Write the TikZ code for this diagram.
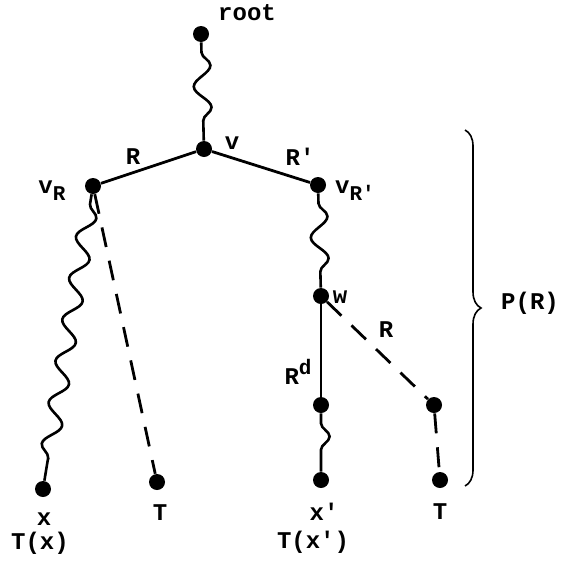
\documentclass[tikz,border=0pt]{standalone}
\usepackage{fontspec}
\setmonofont{Liberation Mono}
\usetikzlibrary{positioning,decorations.pathmorphing,decorations.pathreplacing}
\newcommand{\lsub}[1]{\raisebox{-3.5pt}{\fontsize{10.5}{11}\selectfont #1}}
\newcommand{\lsup}[1]{\raisebox{5pt}{\fontsize{10.5}{11}\selectfont #1}}
\tikzset{
dot/.style={circle,fill=black,inner sep=0pt,minimum size=8pt},
lbl/.style={font=\ttfamily\bfseries\fontsize{12}{13}\selectfont,inner sep=1pt},
solidedge/.style={line width=1.4pt},
wavyedge/.style={line width=1.3pt,decorate,decoration={snake,segment length=21pt,amplitude=4.3pt,pre length=5pt,post length=5pt}},
dashedge/.style={line width=1.4pt,dash pattern=on 10pt off 7pt},
bracemark/.style={line width=0.8pt,decorate,decoration={brace,amplitude=8pt}}
}

\begin{document}
\begin{tikzpicture}[x=0.5pt,y=-0.5pt]
\useasboundingbox (0,0) rectangle (565,562);
% tree vertices
\node[dot] (root) at (201,34) {};
\node[dot] (v) at (204,149) {};
\node[dot] (vR) at (93,186) {};
\node[dot] (vRp) at (318,185) {};
\node[dot] (w) at (321,296) {};
\node[dot] (wd) at (321,405) {};
\node[dot] (wr) at (434,405) {};
\node[dot] (x) at (43,489) {};
\node[dot] (tl) at (157,482) {};
\node[dot] (xp) at (321,480) {};
\node[dot] (tr) at (440,480) {};
% edges
\draw[wavyedge] (root) -- (v);
\draw[solidedge] (v) -- (vR);
\draw[solidedge] (v) -- (vRp);
\draw[wavyedge] (vR) -- (x);
\draw[dashedge] (vR) -- (tl);
\draw[wavyedge] (vRp) -- (w);
\draw[solidedge] (w) -- (wd);
\draw[dashedge] (w) -- (wr);
\draw[wavyedge] (wd) -- (xp);
\draw[dashedge] (wr) -- (tr);
% labels
\node[lbl] (rootlbl) at (247,13) {root};
\node[lbl] (vlbl) at (232,143) {v};
\node[lbl] (vRlbl) at (52,191) {v\lsub{R}};
\node[lbl] (vRplbl) at (355,191) {v\lsub{R'}};
\node[lbl] (wlbl) at (340,297) {w};
\node[lbl] (Rlbl) at (133,157) {R};
\node[lbl] (Rplbl) at (300,157) {R'};
\node[lbl] (Rwlbl) at (386,330) {R};
\node[lbl] (Rdlbl) at (298,372) {R\lsup{d}};
\node[lbl] (xlbl) at (44,519) {x};
\node[lbl] (Txlbl) at (40,543) {T(x)};
\node[lbl] (tllbl) at (160,513) {T};
\node[lbl] (xplbl) at (324,512) {x'};
\node[lbl] (Txplbl) at (313,542) {T(x')};
\node[lbl] (trlbl) at (440,512) {T};
% brace
\coordinate (btop) at (465,130);
\coordinate (bbot) at (465,486);
\draw[bracemark] (btop) -- (bbot);
\node[lbl] (PRlbl) at (530,303) {P(R)};
\end{tikzpicture}
\end{document}
